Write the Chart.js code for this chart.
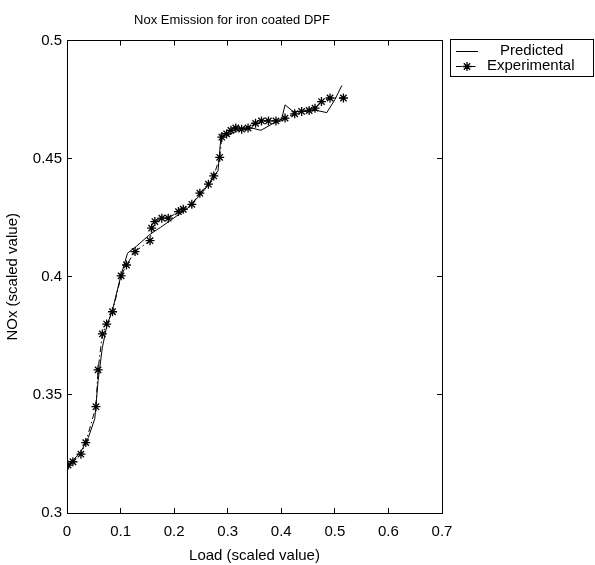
<!DOCTYPE html>
<html>
<head>
<meta charset="utf-8">
<script src="https://cdn.jsdelivr.net/npm/chart.js@4.4.1/dist/chart.umd.min.js"></script>
<style>
  html, body { margin: 0; padding: 0; background: #fff; }
</style>
</head>
<body>
<canvas id="Chart" width="595" height="565"></canvas>
<script>
// ----- data
var titleText = 'Nox Emission for iron coated DPF';
var xTitle = 'Load (scaled value)';
var yTitle = 'NOx (scaled value)';
var seriesNames = ['Predicted', 'Experimental'];
var xTickLabels = ['0', '0.1', '0.2', '0.3', '0.4', '0.5', '0.6', '0.7'];
var yTickLabels = ['0.3', '0.35', '0.4', '0.45', '0.5'];

// predicted (solid line)
var predLoad = [0.000, 0.010, 0.026, 0.040, 0.052, 0.058, 0.066, 0.074, 0.085, 0.100, 0.113, 0.130,
                0.155, 0.175, 0.200, 0.225, 0.250, 0.268, 0.282, 0.288, 0.300, 0.320, 0.345, 0.362,
                0.385, 0.400, 0.407, 0.422, 0.440, 0.465, 0.485, 0.500, 0.513];
var predNox  = [0.318, 0.322, 0.326, 0.332, 0.340, 0.356, 0.370, 0.379, 0.386, 0.400, 0.410, 0.413,
                0.418, 0.421, 0.425, 0.429, 0.435, 0.440, 0.445, 0.461, 0.460, 0.462, 0.463, 0.462,
                0.465, 0.466, 0.4728, 0.470, 0.470, 0.4705, 0.4695, 0.475, 0.481];

// experimental (dash-dot with star markers)
var expLoad = [0.002, 0.011, 0.026, 0.035, 0.054, 0.058, 0.066, 0.074, 0.085, 0.101, 0.111, 0.127,
               0.155, 0.158, 0.164, 0.177, 0.189, 0.208, 0.217, 0.233, 0.248, 0.264, 0.274, 0.285,
               0.289, 0.298, 0.306, 0.315, 0.326, 0.338, 0.352, 0.363, 0.376, 0.390, 0.407, 0.425,
               0.438, 0.452, 0.463, 0.475, 0.491, 0.516];
var expNox  = [0.3203, 0.3217, 0.3249, 0.3298, 0.345, 0.3606, 0.3758, 0.380, 0.3852, 0.4004, 0.405, 0.4107,
               0.4153, 0.4206, 0.4234, 0.4248, 0.4248, 0.4276, 0.4286, 0.4307, 0.4354, 0.4392, 0.4427, 0.4506,
               0.4591, 0.4605, 0.462, 0.463, 0.4625, 0.463, 0.465, 0.466, 0.466, 0.466, 0.4672, 0.469,
               0.470, 0.4704, 0.4714, 0.4742, 0.4757, 0.4757];

var fontFamily = "'Liberation Sans', Arial, Helvetica, sans-serif";
Chart.defaults.font.family = fontFamily;
Chart.defaults.color = '#000';

function toPoints(xs, ys) {
  return xs.map(function (x, i) { return { x: x, y: ys[i] }; });
}

var expDash = [6, 3, 1.5, 3];

function drawStar(ctx, x, y, r) {
  var d = r * Math.SQRT1_2;
  ctx.beginPath();
  ctx.moveTo(x - r, y); ctx.lineTo(x + r, y);
  ctx.moveTo(x, y - r); ctx.lineTo(x, y + r);
  ctx.moveTo(x - d, y - d); ctx.lineTo(x + d, y + d);
  ctx.moveTo(x - d, y + d); ctx.lineTo(x + d, y - d);
  ctx.stroke();
}

// boxed legend at the right, like the original
const legendBox = {
  id: 'legendBox',
  afterDraw(chart) {
    const ctx = chart.ctx;
    ctx.save();
    ctx.strokeStyle = '#000';
    ctx.lineWidth = 1;
    ctx.strokeRect(450.5, 39.5, 143, 37);

    ctx.beginPath();
    ctx.moveTo(456, 51.5); ctx.lineTo(478, 51.5);
    ctx.stroke();

    ctx.setLineDash(expDash);
    ctx.beginPath();
    ctx.moveTo(456, 66.5); ctx.lineTo(478, 66.5);
    ctx.stroke();
    ctx.setLineDash([]);
    ctx.lineWidth = 1.3;
    drawStar(ctx, 467, 66.5, 4.5);

    ctx.fillStyle = '#000';
    ctx.font = '15px ' + fontFamily;
    ctx.textBaseline = 'middle';
    ctx.textAlign = 'left';
    ctx.fillText(seriesNames[0], 500, 51);
    ctx.fillText(seriesNames[1], 487, 66);
    ctx.restore();
  }
};

function tickGrid() {
  return { drawOnChartArea: false, tickLength: -5, color: '#000', lineWidth: 1 };
}

const ctx = document.getElementById('Chart').getContext('2d');
const noxChart = new Chart(ctx, {
  type: 'scatter',
  data: {
    datasets: [{
      label: seriesNames[0],
      data: toPoints(predLoad, predNox),
      showLine: true,
      borderColor: '#000',
      borderWidth: 1,
      pointRadius: 0,
      tension: 0
    }, {
      label: seriesNames[1],
      data: toPoints(expLoad, expNox),
      showLine: true,
      borderColor: '#000',
      backgroundColor: '#000',
      borderWidth: 1,
      borderDash: expDash,
      pointStyle: 'star',
      pointRadius: 4.5,
      pointBorderWidth: 1.3,
      pointBorderColor: '#000',
      tension: 0
    }]
  },
  options: {
    responsive: false,
    animation: false,
    layout: { padding: { left: 22, right: 153, top: 0, bottom: 0 } },
    plugins: {
      legend: { display: false },
      tooltip: { enabled: false },
      title: {
        display: true,
        text: titleText,
        color: '#000',
        font: { size: 13, weight: 'normal' },
        padding: { top: 13, bottom: 12 }
      }
    },
    scales: {
      x: {
        type: 'linear', position: 'bottom', min: 0, max: 0.7,
        ticks: {
          stepSize: 0.1, padding: 15, autoSkip: false, maxRotation: 0,
          font: { size: 15 }, color: '#000',
          callback: function (v, i) { return xTickLabels[i]; }
        },
        grid: tickGrid(),
        border: { color: '#000', width: 1 },
        title: { display: true, text: xTitle, color: '#000', font: { size: 15 }, padding: { top: 0, bottom: 0 } },
        afterFit: function (s) { s.height = 52; }
      },
      y: {
        type: 'linear', position: 'left', min: 0.3, max: 0.5,
        ticks: {
          stepSize: 0.05, padding: 10, autoSkip: false,
          font: { size: 15 }, color: '#000',
          callback: function (v, i) { return yTickLabels[i]; }
        },
        grid: tickGrid(),
        border: { color: '#000', width: 1 },
        title: { display: true, text: yTitle, color: '#000', font: { size: 15 }, padding: { top: -18, bottom: 0 } },
        afterFit: function (s) { s.width = 45; }
      },
      xTop: {
        type: 'linear', position: 'top', min: 0, max: 0.7,
        ticks: { stepSize: 0.1, display: false },
        grid: tickGrid(),
        border: { color: '#000', width: 1 },
        afterFit: function (s) { s.height = 0; }
      },
      yRight: {
        type: 'linear', position: 'right', min: 0.3, max: 0.5,
        ticks: { stepSize: 0.05, display: false },
        grid: tickGrid(),
        border: { color: '#000', width: 1 },
        afterFit: function (s) { s.width = 0; }
      }
    }
  },
  plugins: [legendBox]
});
</script>
</body>
</html>
